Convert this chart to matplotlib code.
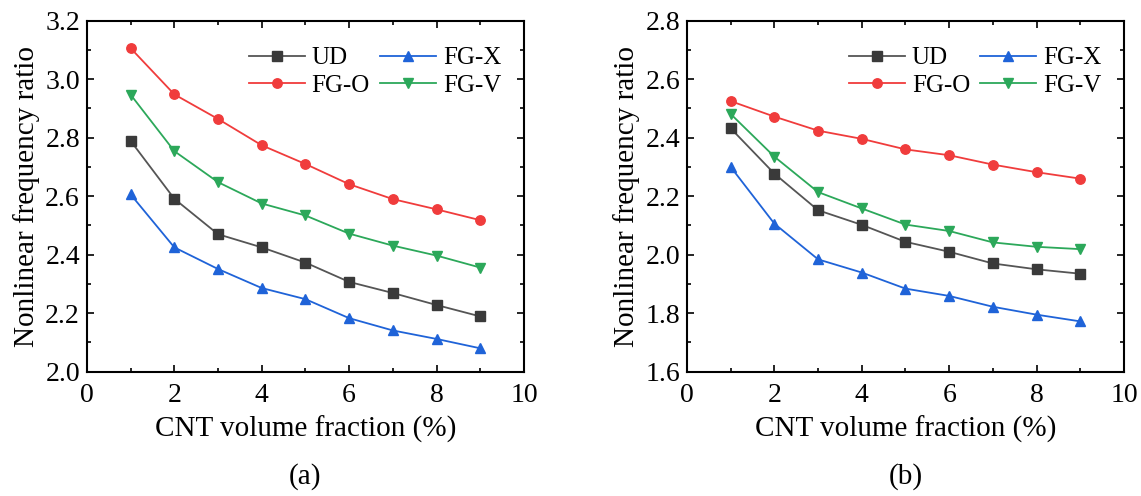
import matplotlib
matplotlib.use("Agg")
import matplotlib.pyplot as plt
from matplotlib.ticker import MultipleLocator, FormatStrFormatter

plt.rcParams['font.family'] = ['Liberation Serif', 'DejaVu Serif']

# CNT volume fraction (%)
vf = [1, 2, 3, 4, 5, 6, 7, 8, 9]

# panel (a)
ud_a = [2.789, 2.591, 2.470, 2.425, 2.373, 2.307, 2.269, 2.228, 2.189]
fgx_a = [2.606, 2.425, 2.351, 2.286, 2.248, 2.183, 2.141, 2.112, 2.080]
fgo_a = [3.106, 2.948, 2.864, 2.774, 2.710, 2.641, 2.590, 2.555, 2.518]
fgv_a = [2.947, 2.754, 2.648, 2.575, 2.534, 2.472, 2.431, 2.397, 2.356]

# panel (b)
ud_b = [2.432, 2.277, 2.152, 2.102, 2.044, 2.010, 1.970, 1.950, 1.935]
fgx_b = [2.300, 2.106, 1.984, 1.939, 1.884, 1.859, 1.822, 1.795, 1.772]
fgo_b = [2.525, 2.472, 2.424, 2.396, 2.360, 2.340, 2.308, 2.282, 2.260]
fgv_b = [2.481, 2.335, 2.214, 2.158, 2.103, 2.081, 2.042, 2.027, 2.019]

styles = {
    'UD': dict(color='#555555', mfc='#3a3a3a', mec='#3a3a3a', marker='s'),
    'FG-X': dict(color='#1f63d8', mfc='#1f63d8', mec='#1f63d8', marker='^'),
    'FG-O': dict(color='#f03c3c', mfc='#f03c3c', mec='#f03c3c', marker='o'),
    'FG-V': dict(color='#2ca85a', mfc='#2ca85a', mec='#2ca85a', marker='v'),
}

fig = plt.figure(figsize=(11.41, 4.96), dpi=100)
ax_a = fig.add_axes([0.0762, 0.2506, 0.383, 0.7077])
ax_b = fig.add_axes([0.6021, 0.2506, 0.383, 0.7077])


def draw(ax, data, ylim, letter):
    lines = {}
    for name, vals in data.items():
        ln, = ax.plot(vf, vals, lw=1.3, ms=6.8, label=name, **styles[name])
        lines[name] = ln
    ax.set_xlim(0, 10)
    ax.set_ylim(*ylim)
    ax.xaxis.set_major_locator(MultipleLocator(2))
    ax.xaxis.set_minor_locator(MultipleLocator(1))
    ax.yaxis.set_major_locator(MultipleLocator(0.2))
    ax.yaxis.set_minor_locator(MultipleLocator(0.1))
    ax.yaxis.set_major_formatter(FormatStrFormatter('%.1f'))
    ax.tick_params(which='both', direction='in', top=True, right=True,
                   labeltop=False, labelright=False, width=1.2)
    ax.tick_params(which='major', length=5, labelsize=20)
    ax.tick_params(axis='x', which='major', pad=8)
    ax.tick_params(axis='y', which='major', pad=5)
    ax.tick_params(which='minor', length=3)
    for sp in ax.spines.values():
        sp.set_linewidth(1.5)
    ax.set_xlabel('CNT volume fraction (%)', fontsize=21, labelpad=6)
    ax.set_ylabel('Nonlinear frequency ratio', fontsize=21, labelpad=4)
    order = ['UD', 'FG-O', 'FG-X', 'FG-V']
    ax.legend([lines[k] for k in order], order, ncol=2, frameon=False,
              fontsize=18, loc='upper right', bbox_to_anchor=(0.988, 0.975),
              handlelength=2.25, columnspacing=0.4, handletextpad=0.27,
              labelspacing=0.2, borderaxespad=0.3)
    ax.text(0.5, -0.30, letter, transform=ax.transAxes, ha='center',
            va='center', fontsize=21)


draw(ax_a, {'UD': ud_a, 'FG-X': fgx_a, 'FG-O': fgo_a, 'FG-V': fgv_a},
     (2.0, 3.2), '(a)')
draw(ax_b, {'UD': ud_b, 'FG-X': fgx_b, 'FG-O': fgo_b, 'FG-V': fgv_b},
     (1.6, 2.8), '(b)')

fig.savefig('out.png', dpi=100)
